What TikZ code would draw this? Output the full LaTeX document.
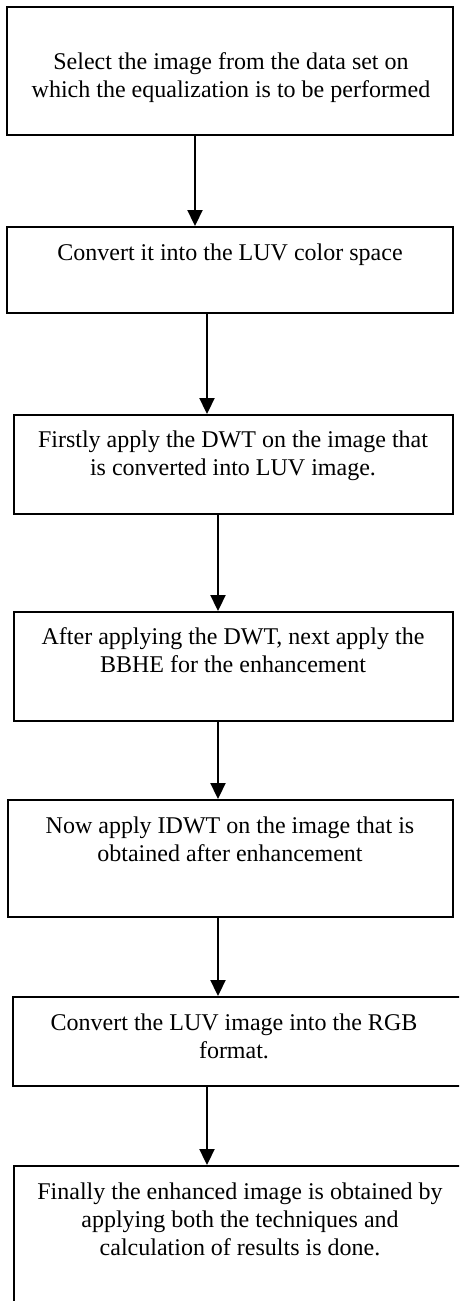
\documentclass[tikz,border=0pt]{standalone}
\usepackage{fontspec}
\setmainfont{Liberation Serif}
\usetikzlibrary{arrows.meta}
\begin{document}
\begin{tikzpicture}[x=1pt,y=-1pt,
  box/.style={draw, line width=1.9pt, rectangle, inner sep=0pt},
  lbl/.style={font=\fontsize{24}{27.6}\selectfont, align=center, anchor=base, inner sep=0pt},
  arr/.style={line width=1.9pt, -{Triangle[length=16pt,width=15pt]}}]
\useasboundingbox (0,0) rectangle (459,1301);
\fill[white] (0,0) rectangle (459,1301);
\clip (0,0) rectangle (459,1301);
% boxes
\node[box, minimum width=446pt, minimum height=128pt] (b1) at (230,71) {};
\node[box, minimum width=446pt, minimum height=86pt] (b2) at (230,270) {};
\node[box, minimum width=439pt, minimum height=99pt] (b3) at (233.5,464.5) {};
\node[box, minimum width=439pt, minimum height=109pt] (b4) at (233.5,666.5) {};
\node[box, minimum width=445pt, minimum height=117pt] (b5) at (230.5,858.5) {};
\node[box, minimum width=462pt, minimum height=89pt] (b6) at (244,1041.5) {};
\node[box, minimum width=461pt, minimum height=154pt] (b7) at (244.5,1243) {};
% texts (anchored at the baseline of the last line)
\node[lbl] (t1) at (231,97) {Select the image from the data set on\\which the equalization is to be performed};
\node[lbl] (t2) at (230,260) {Convert it into the LUV color space};
\node[lbl] (t3) at (233,475) {Firstly apply the DWT on the image that\\is converted into LUV image.};
\node[lbl] (t4) at (233,672) {After applying the DWT, next apply the\\BBHE for the enhancement};
\node[lbl] (t5) at (230,861) {Now apply IDWT on the image that is\\obtained after enhancement};
\node[lbl] (t6) at (234,1058) {Convert the LUV image into the RGB\\format.};
\node[lbl] (t7) at (240,1255) {Finally the enhanced image is obtained by\\applying both the techniques and\\calculation of results is done.};
% arrow columns
\coordinate (c1) at (195,0);
\coordinate (c2) at (207,0);
\coordinate (c3) at (218,0);
\coordinate (c6) at (207,0);
\draw[arr] (b1.south -| c1) -- (b2.north -| c1);
\draw[arr] (b2.south -| c2) -- (b3.north -| c2);
\draw[arr] (b3.south -| c3) -- (b4.north -| c3);
\draw[arr] (b4.south -| c3) -- (b5.north -| c3);
\draw[arr] (b5.south -| c3) -- (b6.north -| c3);
\draw[arr] (b6.south -| c6) -- (b7.north -| c6);
\end{tikzpicture}
\end{document}
